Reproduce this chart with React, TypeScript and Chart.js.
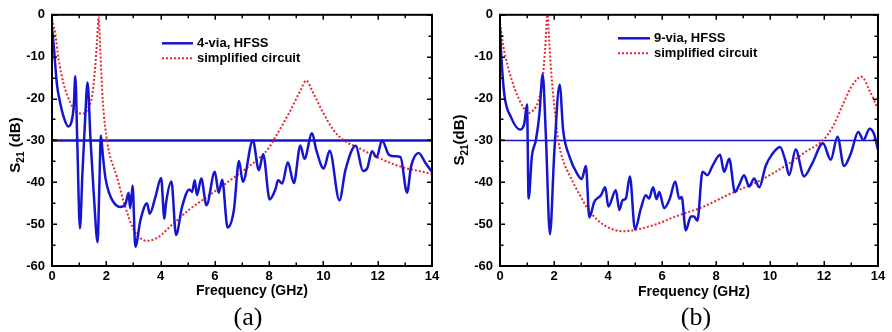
import React, { useEffect, useRef } from "react";
import { Chart, registerables } from "chart.js";

Chart.register(...registerables);

// ---------- data ----------
const xTickValues = [0, 2, 4, 6, 8, 10, 12, 14];
const yTickValues = [0, -10, -20, -30, -40, -50, -60];
const limitLevel = -30;

// (a) 4-via, HFSS
const freqA_hfss = [
  0, 0.06, 0.18, 0.31, 0.45, 0.6, 0.72, 0.8, 0.86, 0.93,
  1.03, 1.12, 1.22, 1.31, 1.42, 1.55, 1.68, 1.74, 1.8, 1.88,
  1.97, 2.1, 2.25, 2.5, 2.7, 2.82, 2.88, 2.97, 3.07, 3.26,
  3.5, 3.6, 3.81, 4.02, 4.14, 4.2, 4.4, 4.57, 4.79, 5.06,
  5.16, 5.26, 5.34, 5.5, 5.69, 6.0, 6.14, 6.27, 6.47, 6.7,
  6.89, 7.03, 7.4, 7.62, 7.78, 8.02, 8.23, 8.33, 8.48, 8.69,
  8.91, 9.15, 9.3, 9.58, 9.74, 10.01, 10.23, 10.59, 10.81, 11.19,
  11.46, 11.61, 11.79, 11.96, 12.16, 12.41, 12.65, 12.84, 13.08, 13.23,
  13.51, 13.76, 14,
];
const s21A_hfss = [
  -3, -7, -16.5, -21.3, -24.8, -26.7, -25.5, -22, -14.7, -30,
  -51, -38, -25, -16.2, -30, -44, -54.3, -42, -28.8, -34,
  -39, -42.5, -44.6, -45.9, -45.3, -42.5, -46.2, -40.8, -55.4, -49,
  -45, -47.5, -43.5, -39, -48.7, -45, -39.8, -52.6, -45.9, -41.7,
  -42.3, -39.5, -43.1, -39.1, -45.5, -37.5, -42.5, -39.4, -50.8, -46.7,
  -34.9, -39.9, -30, -37.1, -33.3, -44.1, -41.7, -39.5, -40.3, -35.2,
  -40.2, -31.2, -34.4, -28.3, -32.4, -36.7, -32.5, -44.3, -37.1, -31.3,
  -37.3, -36.7, -32.6, -34, -30, -33.4, -33.8, -34, -42.5, -36.2,
  -33, -35.4, -37.5,
];

// (a) simplified circuit
const freqA_circuit = [
  0, 0.12, 0.24, 0.43, 0.67, 0.92, 1.16, 1.35, 1.47, 1.57,
  1.66, 1.72, 1.78, 1.87, 2.03, 2.39, 2.7, 3.0, 3.25, 3.5,
  3.87, 4.48, 5.1, 5.71, 6.32, 6.82, 7.67, 8.0, 8.23, 8.78,
  9.15, 9.37, 9.58, 9.95, 10.38, 10.75, 11.24, 11.85, 12.71, 14,
];
const s21A_circuit = [
  -1, -4.5, -10.5, -16.5, -20.9, -23.3, -23.6, -22, -19.7, -14.1,
  -6.2, -0.5, -8.6, -20.5, -30.2, -38.7, -45.9, -51.2, -53.3, -54,
  -53.3, -49.8, -46.3, -43.5, -40.7, -38.3, -34, -31.7, -29.2, -22.9,
  -18.1, -15.7, -18.1, -22.9, -27.6, -30, -31.6, -33.6, -36, -38,
];

// (b) 9-via, HFSS
const freqB_hfss = [
  0, 0.05, 0.16, 0.41, 0.74, 0.9, 1.0, 1.06, 1.18, 1.33,
  1.46, 1.58, 1.7, 1.85, 2.01, 2.21, 2.34, 2.57, 2.87, 3.03,
  3.18, 3.31, 3.49, 3.74, 3.9, 4.01, 4.29, 4.42, 4.54, 4.66,
  4.81, 5.0, 5.22, 5.4, 5.52, 5.67, 5.8, 5.9, 6.08, 6.29,
  6.49, 6.64, 6.73, 6.88, 7.07, 7.19, 7.31, 7.5, 7.68, 7.87,
  8.15, 8.3, 8.49, 8.7, 8.86, 9.04, 9.23, 9.41, 9.6, 9.84,
  10.07, 10.37, 10.56, 10.71, 10.95, 11.26, 11.57, 11.96, 12.25, 12.5,
  12.74, 12.99, 13.27, 13.46, 13.69, 13.85, 14,
];
const s21B_hfss = [
  -3, -10, -19, -24.5, -27.4, -26, -21.4, -43.9, -33.8, -29.9,
  -23.7, -14.2, -29.1, -52.4, -33, -16.7, -27.6, -33.8, -38.1, -39.2,
  -36.1, -48.4, -44.7, -43.1, -41.2, -45.8, -41.9, -46.6, -44.3, -43.9,
  -38.6, -51.3, -46.2, -43.1, -43.9, -41.2, -44, -42.3, -46.2, -43.9,
  -39.8, -43.9, -43.5, -51.5, -48.2, -48.2, -49.2, -37.5, -38.3, -36.1,
  -33.4, -37.5, -34.4, -42.3, -40.6, -38.3, -41, -39.1, -41.2, -36.1,
  -33.4, -31.6, -34.6, -38.3, -32.2, -38.6, -35.4, -30.7, -34.6, -29.1,
  -36.1, -33.2, -28, -29.9, -27.2, -28.4, -32.2,
];

// (b) simplified circuit
const freqB_circuit = [
  0, 0.12, 0.31, 0.56, 0.86, 1.05, 1.23, 1.42, 1.58, 1.67,
  1.76, 1.82, 1.9, 2.0, 2.16, 2.35, 2.59, 2.96, 3.33, 3.82,
  4.56, 5.06, 5.8, 6.41, 7.03, 7.4, 8.51, 9.62, 10.73, 11.35,
  11.97, 12.32, 12.7, 13.02, 13.39, 13.7, 14,
];
const s21B_circuit = [
  -2, -7.4, -12.8, -17.9, -22.1, -23.5, -22.8, -20.6, -15.2, -8.2,
  0, -6, -14, -21, -30, -35, -38.5, -43.1, -47, -50.1,
  -51.7, -51.3, -50, -48.4, -47, -46.2, -42.8, -39.6, -35.4, -32.6,
  -29.9, -26.8, -21.4, -17.1, -14.8, -18.3, -22.5,
];

const legendA = ["4-via, HFSS", "simplified circuit"];
const legendB = ["9-via, HFSS", "simplified circuit"];

// ---------- styles ----------
const SANS = "'Liberation Sans', Arial, sans-serif";
const BLUE = "#1515d0";
const RED = "#e8262e";
const CW = 446;
const CH = 305;

type PanelCfg = {
  hfssX: number[];
  hfssY: number[];
  circX: number[];
  circY: number[];
  legend: string[];
  yTitleSpace: boolean;
  plot: { left: number; right: number; top: number; bottom: number };
  legendPos: { x1: number; x2: number; y: number; dy: number };
  xTitlePos: { x: number; y: number };
  yTitlePos: { x: number; y: number };
  hlineWidth: number;
};

const toPts = (xs: number[], ys: number[]) => xs.map((x, i) => ({ x, y: ys[i] }));

function makePlugin(cfg: PanelCfg) {
  return {
    id: "decor",
    afterDatasetsDraw(chart: any) {
      const ctx = chart.ctx as CanvasRenderingContext2D;
      const a = chart.chartArea;
      const xs = chart.scales.x;
      const ys = chart.scales.y;
      ctx.save();
      ctx.strokeStyle = "#000";
      // ticks
      ctx.lineWidth = 1.5;
      for (let f = 0; f <= 14; f += 1) {
        const px = Math.round(xs.getPixelForValue(f)) + 0.25;
        const len = f % 2 === 0 ? 5 : 3.5;
        ctx.beginPath();
        ctx.moveTo(px, a.bottom);
        ctx.lineTo(px, a.bottom - len);
        ctx.moveTo(px, a.top);
        ctx.lineTo(px, a.top + len);
        ctx.stroke();
      }
      for (let v = -60; v <= 0; v += 5) {
        const py = Math.round(ys.getPixelForValue(v)) + 0.25;
        const len = v % 10 === 0 ? 5 : 3.5;
        ctx.beginPath();
        ctx.moveTo(a.left, py);
        ctx.lineTo(a.left + len, py);
        ctx.moveTo(a.right, py);
        ctx.lineTo(a.right - len, py);
        ctx.stroke();
      }
      // frame
      ctx.lineWidth = 2;
      ctx.strokeRect(a.left, a.top, a.right - a.left, a.bottom - a.top);
      ctx.restore();
    },
    afterDraw(chart: any) {
      const ctx = chart.ctx as CanvasRenderingContext2D;
      ctx.save();
      ctx.fillStyle = "#000";
      // legend
      const L = cfg.legendPos;
      ctx.font = `bold 13px ${SANS}`;
      ctx.textBaseline = "middle";
      ctx.textAlign = "left";
      ctx.strokeStyle = BLUE;
      ctx.lineWidth = 2.5;
      ctx.beginPath();
      ctx.moveTo(L.x1, L.y);
      ctx.lineTo(L.x2, L.y);
      ctx.stroke();
      ctx.fillText(cfg.legend[0], L.x2 + 4, L.y + 0.5);
      ctx.strokeStyle = RED;
      ctx.lineWidth = 2;
      ctx.setLineDash([2, 2]);
      ctx.beginPath();
      ctx.moveTo(L.x1, L.y + L.dy);
      ctx.lineTo(L.x2, L.y + L.dy);
      ctx.stroke();
      ctx.setLineDash([]);
      ctx.fillText(cfg.legend[1], L.x2 + 4, L.y + L.dy + 0.5);

      // x title
      ctx.font = `bold 14px ${SANS}`;
      ctx.textAlign = "center";
      ctx.fillText("Frequency (GHz)", cfg.xTitlePos.x, cfg.xTitlePos.y);

      // y title with subscript
      const big = `bold 15px ${SANS}`;
      const small = `bold 10px ${SANS}`;
      const tail = cfg.yTitleSpace ? " (dB)" : "(dB)";
      ctx.font = big;
      const wS = ctx.measureText("S").width;
      const wT = ctx.measureText(tail).width;
      ctx.font = small;
      const wSub = ctx.measureText("21").width;
      const total = wS + wSub + wT;
      ctx.translate(cfg.yTitlePos.x, cfg.yTitlePos.y);
      ctx.rotate(-Math.PI / 2);
      ctx.textAlign = "left";
      ctx.textBaseline = "alphabetic";
      let x = -total / 2;
      const base = 5;
      ctx.font = big;
      ctx.fillText("S", x, base);
      x += wS;
      ctx.font = small;
      ctx.fillText("21", x, base + 4);
      x += wSub;
      ctx.font = big;
      ctx.fillText(tail, x, base);
      ctx.restore();
    },
  };
}

function Panel({ cfg, left }: { cfg: PanelCfg; left: number }) {
  const ref = useRef<HTMLCanvasElement | null>(null);
  useEffect(() => {
    if (!ref.current) return;
    const p = cfg.plot;
    const tickFont = { family: SANS, size: 13, weight: "bold" as const };
    const chart = new Chart(ref.current, {
      type: "line",
      data: {
        datasets: [
          {
            label: cfg.legend[0],
            data: toPts(cfg.hfssX, cfg.hfssY),
            borderColor: BLUE,
            borderWidth: 2.5,
            pointRadius: 0,
            cubicInterpolationMode: "monotone",
            fill: false,
          },
          {
            label: cfg.legend[1],
            data: toPts(cfg.circX, cfg.circY),
            borderColor: RED,
            borderWidth: 2,
            borderDash: [2, 2],
            pointRadius: 0,
            cubicInterpolationMode: "monotone",
            fill: false,
          },
          {
            label: "-30 dB",
            data: [
              { x: xTickValues[0], y: limitLevel },
              { x: xTickValues[xTickValues.length - 1], y: limitLevel },
            ],
            borderColor: BLUE,
            borderWidth: cfg.hlineWidth,
            pointRadius: 0,
            fill: false,
          },
        ],
      },
      options: {
        animation: false,
        responsive: false,
        maintainAspectRatio: false,
        layout: {
          padding: { left: 0, right: CW - p.right, top: p.top, bottom: 0 },
        },
        plugins: {
          legend: { display: false },
          tooltip: { enabled: false },
          title: { display: false },
        },
        scales: {
          x: {
            type: "linear",
            min: xTickValues[0],
            max: xTickValues[xTickValues.length - 1],
            afterBuildTicks: (s: any) => {
              s.ticks = xTickValues.map((v) => ({ value: v }));
            },
            ticks: {
              color: "#000",
              font: tickFont,
              padding: 3,
              maxRotation: 0,
              autoSkip: false,
            },
            grid: { display: false, drawTicks: false },
            border: { display: false },
            afterFit: (s: any) => {
              s.height = CH - p.bottom;
            },
          },
          y: {
            type: "linear",
            min: -60,
            max: 0,
            afterBuildTicks: (s: any) => {
              s.ticks = yTickValues.map((v) => ({ value: v }));
            },
            ticks: {
              color: "#000",
              font: tickFont,
              padding: 7,
              autoSkip: false,
            },
            grid: { display: false, drawTicks: false },
            border: { display: false },
            afterFit: (s: any) => {
              s.width = p.left;
            },
          },
        },
      },
      plugins: [makePlugin(cfg)],
    } as any);
    return () => chart.destroy();
  }, []);
  return (
    <canvas
      ref={ref}
      width={CW}
      height={CH}
      style={{ position: "absolute", left, top: 0, width: CW, height: CH }}
    />
  );
}

const cfgA: PanelCfg = {
  hfssX: freqA_hfss,
  hfssY: s21A_hfss,
  circX: freqA_circuit,
  circY: s21A_circuit,
  legend: legendA,
  yTitleSpace: true,
  plot: { left: 52, right: 432, top: 14, bottom: 266 },
  legendPos: { x1: 162, x2: 193, y: 43.3, dy: 15 },
  xTitlePos: { x: 252, y: 291 },
  yTitlePos: { x: 15, y: 145 },
  hlineWidth: 2.5,
};

const cfgB: PanelCfg = {
  hfssX: freqB_hfss,
  hfssY: s21B_hfss,
  circX: freqB_circuit,
  circY: s21B_circuit,
  legend: legendB,
  yTitleSpace: false,
  plot: { left: 54, right: 432, top: 8, bottom: 266 },
  legendPos: { x1: 172, x2: 204, y: 38.3, dy: 15 },
  xTitlePos: { x: 248, y: 292 },
  yTitlePos: { x: 12.5, y: 140 },
  hlineWidth: 1.5,
};

export default function App() {
  return (
    <div
      style={{
        position: "absolute",
        left: 0,
        top: 0,
        width: 892,
        height: 332,
        background: "#fff",
        overflow: "hidden",
      }}
    >
      <Panel cfg={cfgA} left={0} />
      <Panel cfg={cfgB} left={446} />
      <div
        style={{
          position: "absolute",
          left: 218,
          top: 302,
          width: 60,
          textAlign: "center",
          font: "26px 'Liberation Serif', 'Times New Roman', serif",
          lineHeight: "30px",
          color: "#000",
        }}
      >
        (a)
      </div>
      <div
        style={{
          position: "absolute",
          left: 666,
          top: 302,
          width: 60,
          textAlign: "center",
          font: "26px 'Liberation Serif', 'Times New Roman', serif",
          lineHeight: "30px",
          color: "#000",
        }}
      >
        (b)
      </div>
    </div>
  );
}
